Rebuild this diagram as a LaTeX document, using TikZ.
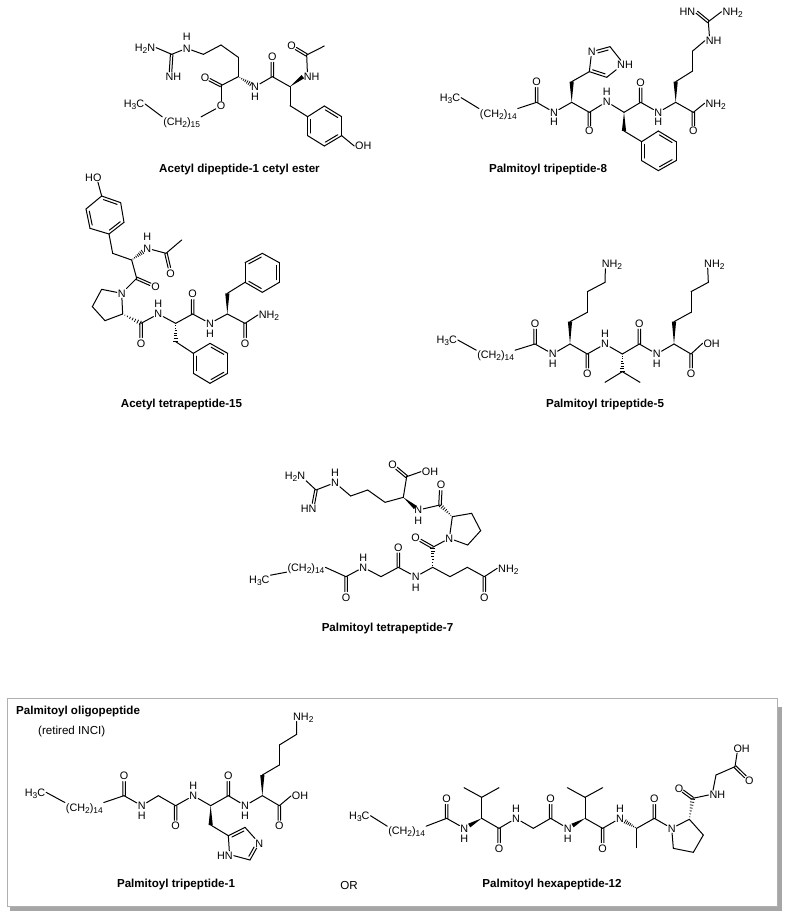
\documentclass[tikz,border=0pt]{standalone}
\usepackage{fontspec}
\setmainfont{Liberation Sans}
\usetikzlibrary{calc}
\definecolor{boxgray}{HTML}{A6A6A6}
\definecolor{framegray}{HTML}{B0B0B0}
\tikzset{
  bond/.style={line width=1pt,line cap=round,line join=round,black},
  hashline/.style={line width=.75pt,black},
  atom/.style={inner sep=.8pt,text height=7.6pt,text depth=0pt,font=\fontsize{10.8}{12}\selectfont,text=black},
  title/.style={inner sep=0pt,font=\fontsize{11.6}{13}\selectfont\bfseries,text=black},
  plain/.style={inner sep=0pt,font=\fontsize{11.6}{13}\selectfont,text=black},
  mol/.style={x=.33333pt,y=-.33333pt}
}
\newcommand\sbs[1]{\raisebox{-2pt}{\fontsize{8.4}{9}\selectfont #1}}
\newcommand\pts[1]{\foreach \n/\x/\y in {#1}{\coordinate (\n) at (\x,\y);}}
\newcommand\lab[1]{\foreach \n/\x/\y/\tx in {#1}{\node[atom] (\n) at (\x,\y) {\tx};}}
\newcommand\bonds[1]{\foreach \p/\q in {#1}{\draw[bond] (\p) -- (\q);}}
\newcommand\CO[3][.72]{%
  \draw[bond] ($(#2)!1.25pt!90:(#3)$) -- ($(#2)!#1!(#3)!1.25pt!-90:(#2)$);
  \draw[bond] ($(#2)!1.25pt!-90:(#3)$) -- ($(#2)!#1!(#3)!1.25pt!90:(#2)$);}
\newcommand\RBX[4]{\draw[bond] ($(#1)!#3!(#2)!2.8pt!-90:(#2)$) -- ($(#1)!#4!(#2)!2.8pt!90:(#1)$);}
\newcommand\RB[2]{\RBX{#1}{#2}{.14}{.86}}
\newcommand\WG[3][1]{%
  \coordinate (wgend) at ($(#2)!#1!(#3)$);
  \fill[black] (#2) -- ($(wgend)!2.1pt!90:(#2)$) -- ($(wgend)!2.1pt!-90:(#2)$) -- cycle;}
\newcommand\HS[3][1]{%
  \foreach \hh in {.12,.26,.4,.54,.68,.82,.96}{%
    \pgfmathsetmacro\hf{\hh*#1}\pgfmathsetmacro\hw{\hh*2.2+.2}%
    \draw[hashline] ($(#2)!\hf!(#3)!\hw pt!90:(#2)$) -- ($(#2)!\hf!(#3)!\hw pt!-90:(#2)$);}}
\begin{document}
\begin{tikzpicture}[x=1pt,y=-1pt]
\useasboundingbox (0,0) rectangle (786,917);
\fill[white] (0,0) rectangle (786,917);

%% frame
\fill[boxgray] (10,707) rectangle (781.5,911);
\draw[framegray,line width=1pt,fill=white] (7,698) rectangle (777,906.5);

%% ---------- Acetyl dipeptide-1 cetyl ester
\begin{scope}[shift={(110,20)},mol]
\pts{a1/185/103,a2/280/103,a3/333/75,a4/385/112,a5/385/170,a6/333/197,a7/487/170,a8/540/200,a9/590/105,a10/643/78,a11/540/257,a12/593/290,a13/643/258,a14/695/290,a15/695/347,a16/643/378,a17/593/347}
\lab{ah3c/72/252/{H\sbs{3}C},ach/215/305/{(CH\sbs{2})\sbs{15}},ao1/333/258/O,ao2/285/172/O,an1/230/85/N,ah1/230/50/H,an2/105/83/{H\sbs{2}N},an3/190/170/NH,an4/435/200/N,ah4/435/230/H,ao3/487/110/O,an5/605/170/NH,ao4/545/78/O,aoh/760/378/OH}
\bonds{ah3c.east/ach.north west,ach.north east/ao1,ao1/a6,a6/a5,a5/a4,a4/a3,a3/a2,a2/an1,an1/a1,a1/an2.east,an4/a7,a7/a8,a8/a11,a11/a12,a12/a13,a13/a14,a14/a15,a15/a16,a16/a17,a17/a12,a15/aoh.west,a10/a9}
\draw[bond] (a9) -- ([xshift=4.5pt]an5.north west);
\coordinate (ane) at ([xshift=6pt]an3.north west);
\CO[1]{a1}{ane}\CO{a6}{ao2}\CO{a7}{ao3}\CO{a9}{ao4}
\HS[.78]{a5}{an4}\WG{a8}{an5.west}
\RB{a13}{a14}\RB{a15}{a16}\RB{a17}{a12}
\end{scope}
\node[title] (t1) at (239.5,169.5) {Acetyl dipeptide-1 cetyl ester};

%% ---------- Palmitoyl tripeptide-8
\begin{scope}[shift={(430,0)},mol]
\pts{b1/320/307,b2/425/307,b3/425/245,b4/478/215,b5/540/140,b6/530/232,b7/478/337,b8/582/337,b9/582/393,b10/635/425,b11/685/393,b12/738/425,b13/738/482,b14/685/512,b15/635/482,b16/632/307,b17/737/307,b18/737/245,b19/788/213,b20/788/153,b21/835/65,b22/790/337}
\lab{bh3c/60/293/{H\sbs{3}C},bch/205/340/{(CH\sbs{2})\sbs{14}},bo1/320/245/O,bn1/372/337/N,bh1/372/365/H,bn2/485/155/N,bn3/585/195/NH,bo2/478/393/O,bn4/530/305/N,bh4/530/275/H,bo3/632/247/O,bn5/685/337/N,bh5/685/365/H,bn6/851/122/NH,bn7/772/35/HN,bn8/908/35/{NH\sbs{2}},bo4/790/393/O,bn9/857/310/{NH\sbs{2}}}
\bonds{bh3c.east/bch.north west,bch.north east/b1,b1/bn1,bn1/b2,b3/b4,b4/bn2,bn2/b5,b6/b4,b2/b7,b7/bn4,bn4/b8,b9/b10,b10/b11,b11/b12,b12/b13,b13/b14,b14/b15,b15/b10,b8/b16,b16/bn5,bn5/b17,b18/b19,b19/b20,b20/bn6.west,b21/bn8.west,b17/b22,b22/bn9.west}
\draw[bond] (b5) -- ([xshift=4.5pt]bn3.north west);
\draw[bond] (b6) -- (bn3.south west);
\draw[bond] ([xshift=4.5pt]bn6.north west) -- (b21);
\CO{b1}{bo1}\CO{b7}{bo2}\CO{b16}{bo3}\CO{b22}{bo4}\CO[.95]{b21}{bn7.east}
\WG{b2}{b3}\WG{b8}{b9}\WG{b17}{b18}
\RBX{bn2}{b5}{.3}{.86}\RB{b6}{b4}
\RB{b11}{b12}\RB{b13}{b14}\RB{b15}{b10}
\end{scope}
\node[title] (t2) at (548,169.5) {Palmitoyl tripeptide-8};

%% ---------- Acetyl tetrapeptide-15
\begin{scope}[shift={(60,165)},mol]
\pts{c1/125/93,c2/182/113,c3/192/172,c4/147/207,c5/90/190,c6/78/132,c7/158/265,c8/215/285,c9/318/265,c10/365/225,c11/230/340,c12/125/373,c13/97/425,c14/135/467,c15/188/447,c16/243/475,c17/347/475,c18/347/530,c19/400/565,c20/450/535,c21/503/565,c22/503/625,c23/450/655,c24/400/625,c25/398/447,c26/502/447,c27/502/385,c28/555/352,c29/555/293,c30/607/265,c31/658/293,c32/658/352,c33/607/382,c34/555/475}
\lab{cho/100/37/HO,cn1/262/250/N,ch1/262/215/H,co1/332/325/O,co2/287/365/O,cn2/185/385/N,co3/243/535/O,cn3/295/447/N,ch3/295/415/H,co4/398/387/O,cn4/450/475/N,ch4/450/505/H,co5/555/535/O,cn5/627/450/{NH\sbs{2}}}
\bonds{c1/c2,c2/c3,c3/c4,c4/c5,c5/c6,c6/c1,c4/c7,c7/c8,cn1/c9,c9/c10,c8/c11,c11/cn2,cn2/c12,c12/c13,c13/c14,c14/c15,c15/cn2,c16/cn3,cn3/c17,c18/c19,c19/c20,c20/c21,c21/c22,c22/c23,c23/c24,c24/c19,c17/c25,c25/cn4,cn4/c26,c27/c28,c28/c29,c29/c30,c30/c31,c31/c32,c32/c33,c33/c28,c26/c34,c34/cn5.west}
\draw[bond] ([xshift=-4.5pt]cho.south east) -- (c1);
\CO{c9}{co1}\CO{c11}{co2}\CO{c16}{co3}\CO{c25}{co4}\CO{c34}{co5}
\HS[.72]{c8}{cn1}\HS{c15}{c16}\HS{c17}{c18}\WG{c26}{c27}
\RB{c1}{c2}\RB{c3}{c4}\RB{c5}{c6}
\RB{c20}{c21}\RB{c22}{c23}\RB{c24}{c19}
\RB{c29}{c30}\RB{c31}{c32}\RB{c33}{c28}
\end{scope}
\node[title] (t3) at (181.5,404) {Acetyl tetrapeptide-15};

%% ---------- Palmitoyl tripeptide-5
\begin{scope}[shift={(430,250)},mol]
\pts{d1/315/282,d2/420/282,d3/420/215,d4/472/187,d5/472/125,d6/525/97,d7/472/312,d8/577/312,d9/577/365,d10/525/397,d11/630/397,d12/628/282,d13/732/282,d14/732/215,d15/783/187,d16/783/125,d17/835/97,d18/783/312}
\lab{dh3c/50/270/{H\sbs{3}C},dch/197/315/{(CH\sbs{2})\sbs{14}},do1/315/220/O,dn1/368/312/N,dh1/368/340/H,dn2/546/42/{NH\sbs{2}},do2/472/370/O,dn3/525/282/N,dh3/525/250/H,do3/628/220/O,dn4/680/312/N,dh4/680/340/H,dn5/853/40/{NH\sbs{2}},do4/783/370/O,doh/845/280/OH}
\bonds{dh3c.east/dch.north west,dch.north east/d1,d1/dn1,dn1/d2,d3/d4,d4/d5,d5/d6,d2/d7,d7/dn3,dn3/d8,d9/d10,d9/d11,d8/d12,d12/dn4,dn4/d13,d14/d15,d15/d16,d16/d17,d13/d18,d18/doh.west}
\draw[bond] (d6) -- ([xshift=4.5pt]dn2.south west);
\draw[bond] (d17) -- ([xshift=4.5pt]dn5.south west);
\CO{d1}{do1}\CO{d7}{do2}\CO{d12}{do3}\CO{d18}{do4}
\WG{d2}{d3}\HS{d8}{d9}\WG{d13}{d14}
\end{scope}
\node[title] (t4) at (605,404) {Palmitoyl tripeptide-5};

%% ---------- Palmitoyl tetrapeptide-7
\begin{scope}[shift={(240,460)},mol]
\pts{e1/228/90,e2/332/108,e3/383/90,e4/435/127,e5/490/112,e6/500/50,e7/600/135,e8/637/170,e9/695/160,e10/722/212,e11/683/255,e12/578/262,e13/578/322,e14/475/322,e15/423/350,e16/318/350,e17/630/350,e18/682/322,e19/733/350}
\lab{eh3c/58/360/{H\sbs{3}C},ech/198/322/{(CH\sbs{2})\sbs{14}},eo1/318/412/O,en1/370/322/N,eh1/370/292/H,eo2/475/262/O,en2/527/350/N,eh2/527/382/H,en3/628/235/N,eo3/527/233/O,en4/535/150/N,eh4/535/182/H,eo4/603/75/O,eo5/458/15/O,eoh/570/35/OH,en5/285/68/N,eh5/285/38/H,en6/165/48/{H\sbs{2}N},en7/206/145/HN,eo6/733/412/O,en8/805/325/{NH\sbs{2}}}
\bonds{eh3c.north east/ech.south west,ech.east/e16,e16/en1,en1/e15,e15/e14,e14/en2,en2/e13,e13/e17,e17/e18,e18/e19,e19/en8.west,e12/en3,en3/e8,e8/e9,e9/e10,e10/e11,e11/en3,e7/en4,e5/e4,e4/e3,e3/e2,e2/en5,en5/e1,e1/en6.south east,e5/e6,e6/eoh.west}
\coordinate (ene) at ([xshift=-4pt]en7.north east);
\CO[1]{e1}{ene}\CO{e16}{eo1}\CO{e14}{eo2}\CO{e12}{eo3}\CO{e7}{eo4}\CO{e6}{eo5}\CO{e19}{eo6}
\HS{e13}{e12}\HS{e8}{e7}\WG[.8]{e5}{en4}
\end{scope}
\node[title] (t5) at (387.5,628) {Palmitoyl tetrapeptide-7};

%% ---------- Palmitoyl tripeptide-1
\begin{scope}[shift={(0,690)},mol]
\pts{f1/372/317,f2/475/317,f3/527/347,f4/632/347,f5/632/405,f6/685/437,f7/735/412,f8/750/510,f9/685/317,f10/787/317,f11/787/255,f12/838/225,f13/838/165,f14/890/133,f15/838/347}
\lab{fh3c/105/307/{H\sbs{3}C},fch/253/352/{(CH\sbs{2})\sbs{14}},fo1/372/258/O,fn1/425/347/N,fh1/425/378/H,fo2/527/408/O,fn2/580/317/N,fh2/580/287/H,fn3/778/460/N,fn4/675/497/HN,fo3/685/258/O,fn5/735/347/N,fh5/735/378/H,fn6/910/80/{NH\sbs{2}},fo4/838/408/O,foh/900/318/OH}
\bonds{fh3c.east/fch.north west,fch.north east/f1,f1/fn1,fn1/f2,f2/f3,f3/fn2,fn2/f4,f5/f6,f6/f7,f7/fn3,fn3/f8,f8/fn4.east,f4/f9,f9/fn5,fn5/f10,f11/f12,f12/f13,f13/f14,f10/f15,f15/foh.west}
\draw[bond] (f6) -- ([xshift=-4.5pt]fn4.north east);
\draw[bond] (f14) -- ([xshift=4.5pt]fn6.south west);
\CO{f1}{fo1}\CO{f3}{fo2}\CO{f9}{fo3}\CO{f15}{fo4}
\WG{f4}{f5}\WG{f10}{f11}
\RB{f6}{f7}\RBX{fn3}{f8}{.3}{.86}
\end{scope}
\node[title,anchor=west] (t6a) at (16,712) {Palmitoyl oligopeptide};
\node[plain,anchor=west] (t6b) at (38,731) {(retired INCI)};
\node[title] (t6) at (176,884) {Palmitoyl tripeptide-1};
\node[plain] (tor) at (349,885.5) {OR};

%% ---------- Palmitoyl hexapeptide-12
\begin{scope}[shift={(340,720)},mol]
\pts{g1/320/295,g2/425/295,g3/425/232,g4/372/203,g5/477/203,g6/477/325,g7/580/325,g8/632/295,g9/735/295,g10/735/232,g11/682/203,g12/788/203,g13/788/325,g14/890/325,g15/890/383,g16/943/295,g17/1048/298,g18/1090/345,g19/1060/397,g20/1000/385,g21/1058/235,g22/1128/165,g23/1185/140}
\lab{gh3c/58/287/{H\sbs{3}C},gch/200/333/{(CH\sbs{2})\sbs{14}},go1/320/237/O,gn1/373/325/N,gh1/373/357/H,go2/477/385/O,gn2/528/295/N,gh2/528/265/H,go3/632/237/O,gn3/683/325/N,gh3/683/355/H,go4/788/385/O,gn4/840/295/N,gh4/840/265/H,go5/943/237/O,gn5/995/325/N,go6/1017/205/O,gn6/1132/225/NH,goh/1205/85/OH,go7/1228/182/O}
\bonds{gh3c.east/gch.north west,gch.north east/g1,g1/gn1,g2/g3,g3/g4,g3/g5,g2/g6,g6/gn2,gn2/g7,g7/g8,g8/gn3,g9/g10,g10/g11,g10/g12,g9/g13,g13/gn4,g14/g15,g14/g16,g16/gn5,gn5/g17,g17/g18,g18/g19,g19/g20,g20/gn5,g21/gn6.west,g22/g23}
\draw[bond] ([xshift=4.5pt]gn6.north west) -- (g22);
\draw[bond] (g23) -- ([xshift=4.5pt]goh.south west);
\CO{g1}{go1}\CO{g6}{go2}\CO{g8}{go3}\CO{g13}{go4}\CO{g16}{go5}\CO{g21}{go6}\CO{g23}{go7}
\WG[.72]{g2}{gn1}\WG[.72]{g9}{gn3}\HS[.72]{g14}{gn4}\HS{g17}{g21}
\end{scope}
\node[title] (t7) at (552,884) {Palmitoyl hexapeptide-12};
\end{tikzpicture}
\end{document}
